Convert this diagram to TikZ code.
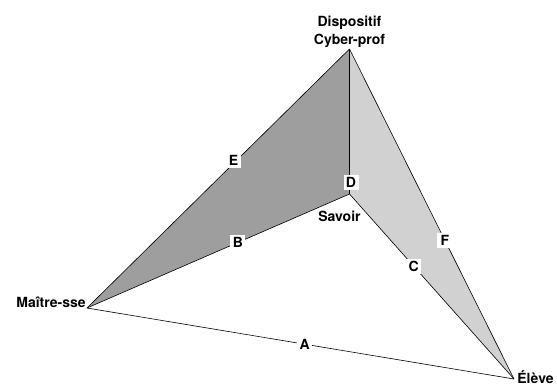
\documentclass[tikz,border=0pt]{standalone}
\usepackage{fontspec}
\setmainfont{TeX Gyre Heros}
\usetikzlibrary{calc}

\begin{document}
\begin{tikzpicture}[
    x=1pt,y=-1pt,line width=.6pt,
    font=\fontsize{14}{18}\selectfont\bfseries,
    edge label/.style={fill=white,inner sep=2pt,minimum size=15pt}
  ]
  \colorlet{dark}{black!38}
  \colorlet{light}{black!18}
  \useasboundingbox (0,0) rectangle (557,385);
  % the four corners
  \coordinate [label={[align=center,inner sep=1pt]above:Dispositif\\Cyber-prof}] (T) at (349.5,49);
  \coordinate (S) at (349.5,194);
  \coordinate (M) at (87,308);
  \coordinate (L) at (514,379);
  \node [anchor=base] (savoir) at ($(S)+(-10,27)$) {Savoir};
  \node [anchor=base east,inner sep=0pt] (maitre) at ($(M)+(-1,-1)$) {Maître-sse};
  \node [anchor=base west,inner sep=0pt] (eleve) at ($(L)+(3,4)$) {Élève};
  % the two shaded faces
  \fill [dark] (T) -- (M) -- (S) -- cycle;
  \fill [light] (T) -- (S) -- (L) -- cycle;
  % edges with their letters
  \draw (M) -- node [edge label,pos=.51] (a) {A} (L);
  \draw (M) -- node [edge label,pos=.575] (b) {B} (S);
  \draw (S) -- node [edge label,pos=.39] (c) {C} (L);
  \draw (T) -- node [edge label,pos=.92,xshift=1.5pt] (d) {D} (S);
  \draw (T) -- node [edge label,pos=.43,xshift=-3pt] (e) {E} (M);
  \draw (T) -- node [edge label,pos=.58] (f) {F} (L);
\end{tikzpicture}
\end{document}
